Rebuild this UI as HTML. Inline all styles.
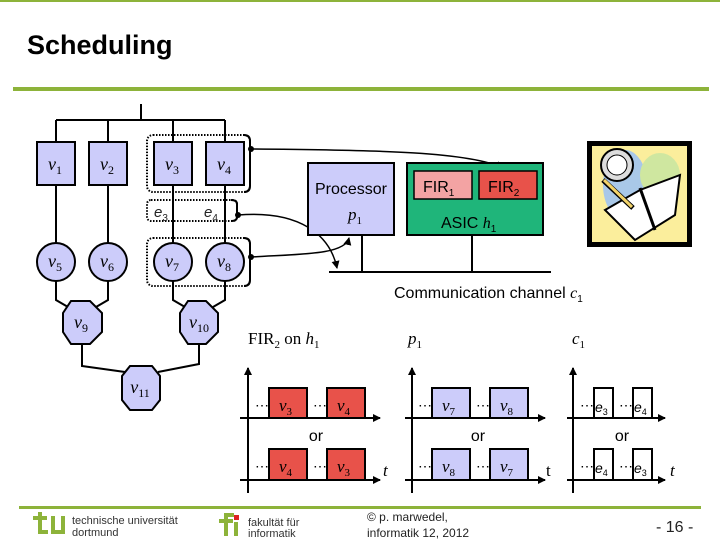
<!DOCTYPE html>
<html><head><meta charset="utf-8"><style>
html,body{margin:0;padding:0;background:#fff;width:720px;height:540px;overflow:hidden}
svg{display:block}
.s{font-family:"Liberation Serif",serif;font-style:italic}
.s tspan[dy]{font-style:normal}
.a{font-family:"Liberation Sans",sans-serif}
.a tspan[dy]{font-style:normal}
</style></head><body>
<svg width="720" height="540" viewBox="0 0 720 540" xmlns="http://www.w3.org/2000/svg">
<defs>
<marker id="ar" markerWidth="8" markerHeight="8" refX="7" refY="4" orient="auto" markerUnits="userSpaceOnUse"><path d="M0,0 L8,4 L0,8 z" fill="#000"/></marker>
</defs>
<rect x="0" y="0" width="720" height="2" fill="#8db33a"/>
<text x="27" y="54" class="a" font-size="27" font-weight="bold">Scheduling</text>
<rect x="13" y="87" width="696" height="4" fill="#8db33a"/>

<g stroke="#000" stroke-width="2" fill="none">
<path d="M141,104 V120 M56,120 H225"/>
<path d="M56,120 V283 M108,120 V283 M173,120 V283 M225,120 V283"/>
<path d="M56,281 V300 L68,307 M108,281 V300 L96,307"/>
<path d="M173,281 V300 L185,307 M225,281 V300 L213,307"/>
<path d="M82,344 V366 L125,372 M199,344 V364 L158,372"/>
</g>
<g fill="none" stroke="#000" stroke-width="2" stroke-dasharray="1.5,1.5">
<rect x="147" y="135" width="103" height="57" rx="6"/>
<rect x="147" y="200" width="90" height="21" rx="4"/>
<rect x="147" y="238" width="103" height="48" rx="6"/>
</g>
<g fill="none" stroke="#000" stroke-width="2">
<path d="M244,135 Q250,135 250,141 V186 Q250,192 244,192"/>
<path d="M231,200 Q237,200 237,204 V217 Q237,221 231,221"/>
<path d="M244,238 Q250,238 250,244 V280 Q250,286 244,286"/>
</g>
<g fill="#ccccfa" stroke="#000" stroke-width="2">
<rect x="37" y="142" width="38" height="43"/>
<rect x="89" y="142" width="38" height="43"/>
<rect x="154" y="142" width="38" height="43"/>
<rect x="206" y="142" width="38" height="43"/>
<circle cx="56" cy="262" r="19"/>
<circle cx="108" cy="262" r="19"/>
<circle cx="173" cy="262" r="19"/>
<circle cx="225" cy="262" r="19"/>
<polygon points="71,301 90,301 102,313 102,332 90,344 71,344 63,332 63,313"/>
<polygon points="188,301 206,301 218,313 218,332 206,344 188,344 180,332 180,313"/>
<polygon points="130,366 152,366 160,376 160,400 152,410 130,410 122,400 122,376"/>
</g>
<g class="s" font-size="18" text-anchor="middle">
<text x="55" y="170">v<tspan font-size="12" dy="4">1</tspan></text>
<text x="107" y="170">v<tspan font-size="12" dy="4">2</tspan></text>
<text x="172" y="170">v<tspan font-size="12" dy="4">3</tspan></text>
<text x="224" y="170">v<tspan font-size="12" dy="4">4</tspan></text>
<text x="55" y="267">v<tspan font-size="12" dy="4">5</tspan></text>
<text x="107" y="267">v<tspan font-size="12" dy="4">6</tspan></text>
<text x="172" y="267">v<tspan font-size="12" dy="4">7</tspan></text>
<text x="224" y="267">v<tspan font-size="12" dy="4">8</tspan></text>
<text x="81" y="328">v<tspan font-size="12" dy="4">9</tspan></text>
<text x="199" y="328">v<tspan font-size="12" dy="4">10</tspan></text>
<text x="140" y="393">v<tspan font-size="12" dy="4">11</tspan></text>
</g>
<g class="a" font-size="15" font-style="italic" fill="#222">
<text x="154" y="217">e<tspan font-size="10" dy="4">3</tspan></text>
<text x="204" y="217">e<tspan font-size="10" dy="4">4</tspan></text>
</g>
<g fill="#000"><circle cx="251" cy="149" r="3"/><circle cx="238" cy="215" r="3"/><circle cx="251" cy="257" r="3"/></g>
<g fill="none" stroke="#000" stroke-width="1.5">
<path d="M251,149 C380,150 470,152 503,168" marker-end="url(#ar)"/>
<path d="M238,215 C300,210 330,235 337,268" marker-end="url(#ar)"/>
<path d="M251,257 C300,254 345,255 349,238" marker-end="url(#ar)"/>
</g>
<rect x="308" y="163" width="86" height="72" fill="#ccccfa" stroke="#000" stroke-width="2"/>
<text x="351" y="194" class="a" font-size="16" text-anchor="middle">Processor</text>
<text x="348" y="220" class="s" font-size="17">p<tspan font-size="11" dy="4">1</tspan></text>
<rect x="407" y="163" width="136" height="72" fill="#1fb57a" stroke="#000" stroke-width="2"/>
<rect x="414" y="171" width="58" height="28" fill="#f3a3a3" stroke="#000" stroke-width="1.5"/>
<rect x="479" y="171" width="58" height="28" fill="#e8524a" stroke="#000" stroke-width="1.5"/>
<text x="423" y="192" class="a" font-size="16">FIR<tspan font-size="10" dy="4">1</tspan></text>
<text x="488" y="192" class="a" font-size="16">FIR<tspan font-size="10" dy="4">2</tspan></text>
<text x="441" y="228" class="a" font-size="16">ASIC <tspan class="s">h</tspan><tspan font-size="10" dy="4">1</tspan></text>
<g stroke="#000" stroke-width="2"><path d="M329,272 H551 M362,235 V272 M472,235 V272"/></g>
<text x="394" y="298" class="a" font-size="16">Communication channel <tspan class="s">c</tspan><tspan font-size="10" dy="4">1</tspan></text>
<rect x="587" y="141" width="105" height="106" fill="#000"/>
<rect x="592" y="146" width="95" height="96" fill="#fbee9c"/>
<ellipse cx="625" cy="185" rx="22" ry="35" fill="#a9c8e8"/>
<ellipse cx="660" cy="175" rx="20" ry="22" fill="#cfe7a0"/>
<circle cx="617" cy="165" r="16" fill="#ddd" stroke="#000" stroke-width="2"/>
<circle cx="617" cy="165" r="10" fill="#fff" stroke="#000" stroke-width="1"/>
<polygon points="605,210 640,190 680,175 675,215 635,240" fill="#fff" stroke="#000" stroke-width="2"/>
<path d="M640,188 L655,230" stroke="#000" stroke-width="3"/>
<path d="M603,180 L633,208" stroke="#000" stroke-width="5"/><path d="M604,180 L632,207" stroke="#f2d36a" stroke-width="3"/>
<text x="248" y="344" font-family="Liberation Serif,serif" font-size="17">FIR<tspan font-size="11" dy="4">2</tspan><tspan dy="-4"> on </tspan><tspan font-style="italic">h</tspan><tspan font-size="11" dy="4">1</tspan></text>
<text x="408" y="344" class="s" font-size="17">p<tspan font-size="11" dy="4">1</tspan></text>
<text x="572" y="344" class="s" font-size="17">c<tspan font-size="11" dy="4">1</tspan></text>
<g stroke="#000" stroke-width="2" fill="none">
<path d="M248,493 V368" marker-end="url(#ar)"/><path d="M240,418 H380" marker-end="url(#ar)"/><path d="M240,480 H380" marker-end="url(#ar)"/>
<path d="M412,493 V368" marker-end="url(#ar)"/><path d="M405,418 H545" marker-end="url(#ar)"/><path d="M405,480 H545" marker-end="url(#ar)"/>
<path d="M573,493 V368" marker-end="url(#ar)"/><path d="M567,418 H665" marker-end="url(#ar)"/><path d="M567,480 H665" marker-end="url(#ar)"/>
</g>
<g stroke="#000" stroke-width="2">
<rect x="269" y="388" width="38" height="30" fill="#e8524a"/><rect x="327" y="388" width="38" height="30" fill="#e8524a"/>
<rect x="269" y="449" width="38" height="31" fill="#e8524a"/><rect x="327" y="449" width="38" height="31" fill="#e8524a"/>
<rect x="432" y="388" width="38" height="30" fill="#ccccfa"/><rect x="490" y="388" width="38" height="30" fill="#ccccfa"/>
<rect x="432" y="449" width="38" height="31" fill="#ccccfa"/><rect x="490" y="449" width="38" height="31" fill="#ccccfa"/>
<rect x="594" y="388" width="19" height="30" fill="#fff"/><rect x="633" y="388" width="19" height="30" fill="#fff"/>
<rect x="594" y="449" width="19" height="31" fill="#fff"/><rect x="633" y="449" width="19" height="31" fill="#fff"/>
</g>
<g font-family="Liberation Sans,sans-serif" font-size="14">
<text x="255" y="410">⋯</text><text x="313" y="410">⋯</text><text x="255" y="471">⋯</text><text x="313" y="471">⋯</text>
<text x="418" y="410">⋯</text><text x="476" y="410">⋯</text><text x="418" y="471">⋯</text><text x="476" y="471">⋯</text>
<text x="580" y="410">⋯</text><text x="619" y="410">⋯</text><text x="580" y="471">⋯</text><text x="619" y="471">⋯</text>
</g>
<g class="s" font-size="17">
<text x="279" y="411">v<tspan font-size="11" dy="4">3</tspan></text><text x="337" y="411">v<tspan font-size="11" dy="4">4</tspan></text>
<text x="279" y="472">v<tspan font-size="11" dy="4">4</tspan></text><text x="337" y="472">v<tspan font-size="11" dy="4">3</tspan></text>
<text x="442" y="411">v<tspan font-size="11" dy="4">7</tspan></text><text x="500" y="411">v<tspan font-size="11" dy="4">8</tspan></text>
<text x="442" y="472">v<tspan font-size="11" dy="4">8</tspan></text><text x="500" y="472">v<tspan font-size="11" dy="4">7</tspan></text>
<text x="383" y="476">t</text><text x="670" y="476">t</text>
</g>
<text x="546" y="476" font-family="Liberation Serif,serif" font-size="17">t</text>
<g class="a" font-size="14" font-style="italic">
<text x="595" y="412">e<tspan font-size="9" dy="3">3</tspan></text><text x="634" y="412">e<tspan font-size="9" dy="3">4</tspan></text>
<text x="595" y="473">e<tspan font-size="9" dy="3">4</tspan></text><text x="634" y="473">e<tspan font-size="9" dy="3">3</tspan></text>
</g>
<g class="a" font-size="16" text-anchor="middle">
<text x="316" y="441">or</text><text x="478" y="441">or</text><text x="622" y="441">or</text>
</g>
<rect x="19" y="506" width="682" height="3" fill="#8db33a"/>
<g fill="#8db33a">
<rect x="33" y="516" width="14" height="4"/><rect x="38" y="512" width="4" height="22"/><rect x="38" y="530" width="10" height="4"/>
<rect x="51" y="516" width="4" height="18"/><rect x="51" y="530" width="14" height="4"/><rect x="61" y="516" width="4" height="18"/>
<rect x="219" y="519" width="14" height="4"/><rect x="224" y="514" width="4" height="22"/><rect x="224" y="513" width="10" height="4"/>
<rect x="234" y="522" width="4" height="14"/>
</g>
<rect x="234" y="515" width="5" height="5" fill="#d22"/>
<g class="a" font-size="11" fill="#333">
<text x="72" y="524">technische universität</text><text x="72" y="536">dortmund</text>
<text x="248" y="526">fakultät für</text><text x="248" y="537">informatik</text>
</g>
<g class="a" font-size="12" fill="#222">
<text x="367" y="521">© p. marwedel,</text><text x="367" y="537">informatik 12,  2012</text>
</g>
<text x="656" y="532" class="a" font-size="16" fill="#222">-  16 -</text>
</svg>
</body></html>
